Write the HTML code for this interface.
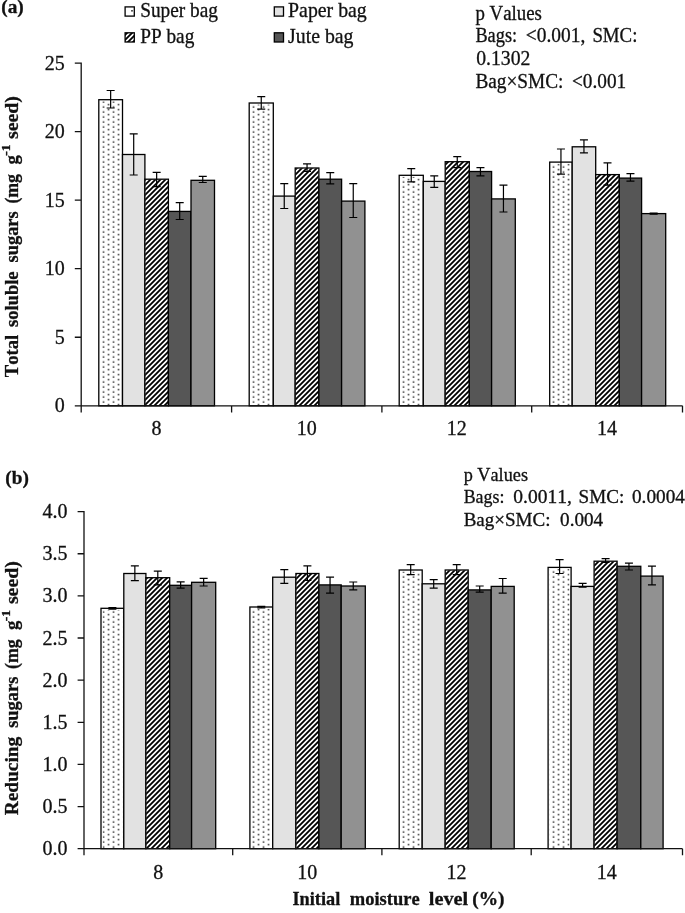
<!DOCTYPE html>
<html><head><meta charset="utf-8"><title>Figure</title><style>html,body{margin:0;padding:0;background:#fff}svg{display:block;filter:blur(0.35px)}text{font-family:"Liberation Serif",serif;fill:#111;font-kerning:none;stroke:#111;stroke-width:0.3px}.t{font-size:20px}.l{font-size:19.6px}.b{font-weight:bold;font-size:19.3px;fill:#111}</style></head><body>
<svg width="685" height="913" viewBox="0 0 685 913">
<defs>
<pattern id="dots" width="10" height="5" patternUnits="userSpaceOnUse" x="0.7" y="0.8"><rect width="10" height="5" fill="#fff"/><rect x="2" y="0.5" width="1.5" height="1.5" fill="#2a2a2a"/><rect x="7" y="3" width="1.5" height="1.5" fill="#2a2a2a"/></pattern>
<pattern id="hatch" width="5" height="5" patternUnits="userSpaceOnUse"><rect width="5" height="5" fill="#fff"/><path d="M-1,1L1,-1M-1,6L6,-1M4,6L6,4" stroke="#000" stroke-width="1.8"/></pattern>
</defs>
<rect width="685" height="913" fill="#fff"/>
<rect x="98.80" y="99.70" width="23.70" height="306.10" fill="#fff"/>
<rect x="100.40" y="101.30" width="20.50" height="304.50" fill="url(#dots)"/>
<rect x="98.80" y="99.70" width="23.70" height="306.10" fill="none" stroke="#000" stroke-width="1.3"/>
<rect x="122.50" y="154.50" width="22.40" height="251.30" fill="#e2e2e2" stroke="#000" stroke-width="1.3"/>
<rect x="144.90" y="179.20" width="23.50" height="226.60" fill="#fff"/>
<rect x="145.20" y="179.50" width="22.90" height="226.30" fill="url(#hatch)"/>
<rect x="144.90" y="179.20" width="23.50" height="226.60" fill="none" stroke="#000" stroke-width="1.3"/>
<rect x="168.40" y="211.40" width="22.60" height="194.40" fill="#565656" stroke="#000" stroke-width="1.3"/>
<rect x="191.00" y="180.30" width="23.50" height="225.50" fill="#919191" stroke="#000" stroke-width="1.3"/>
<path d="M110.65,90.50V108.00M106.65,90.50H114.65M106.65,108.00H114.65" stroke="#000" stroke-width="1.2" fill="none"/>
<path d="M133.70,133.90V175.00M129.70,133.90H137.70M129.70,175.00H137.70" stroke="#000" stroke-width="1.2" fill="none"/>
<path d="M156.65,172.40V186.60M152.65,172.40H160.65M152.65,186.60H160.65" stroke="#000" stroke-width="1.2" fill="none"/>
<path d="M179.70,202.60V219.50M175.70,202.60H183.70M175.70,219.50H183.70" stroke="#000" stroke-width="1.2" fill="none"/>
<path d="M202.75,176.40V182.50M198.75,176.40H206.75M198.75,182.50H206.75" stroke="#000" stroke-width="1.2" fill="none"/>
<rect x="249.20" y="103.00" width="24.10" height="302.80" fill="#fff"/>
<rect x="250.80" y="104.60" width="20.90" height="301.20" fill="url(#dots)"/>
<rect x="249.20" y="103.00" width="24.10" height="302.80" fill="none" stroke="#000" stroke-width="1.3"/>
<rect x="273.30" y="196.10" width="21.90" height="209.70" fill="#e2e2e2" stroke="#000" stroke-width="1.3"/>
<rect x="295.20" y="168.00" width="23.70" height="237.80" fill="#fff"/>
<rect x="295.50" y="168.30" width="23.10" height="237.50" fill="url(#hatch)"/>
<rect x="295.20" y="168.00" width="23.70" height="237.80" fill="none" stroke="#000" stroke-width="1.3"/>
<rect x="318.90" y="179.20" width="22.70" height="226.60" fill="#565656" stroke="#000" stroke-width="1.3"/>
<rect x="341.60" y="201.10" width="23.30" height="204.70" fill="#919191" stroke="#000" stroke-width="1.3"/>
<path d="M261.25,96.60V109.10M257.25,96.60H265.25M257.25,109.10H265.25" stroke="#000" stroke-width="1.2" fill="none"/>
<path d="M284.25,183.60V208.50M280.25,183.60H288.25M280.25,208.50H288.25" stroke="#000" stroke-width="1.2" fill="none"/>
<path d="M307.05,163.90V171.50M303.05,163.90H311.05M303.05,171.50H311.05" stroke="#000" stroke-width="1.2" fill="none"/>
<path d="M330.25,172.60V183.80M326.25,172.60H334.25M326.25,183.80H334.25" stroke="#000" stroke-width="1.2" fill="none"/>
<path d="M353.25,183.60V217.50M349.25,183.60H357.25M349.25,217.50H357.25" stroke="#000" stroke-width="1.2" fill="none"/>
<rect x="399.20" y="175.30" width="24.10" height="230.50" fill="#fff"/>
<rect x="400.80" y="176.90" width="20.90" height="228.90" fill="url(#dots)"/>
<rect x="399.20" y="175.30" width="24.10" height="230.50" fill="none" stroke="#000" stroke-width="1.3"/>
<rect x="423.30" y="181.40" width="21.90" height="224.40" fill="#e2e2e2" stroke="#000" stroke-width="1.3"/>
<rect x="445.20" y="161.70" width="24.10" height="244.10" fill="#fff"/>
<rect x="445.50" y="162.00" width="23.50" height="243.80" fill="url(#hatch)"/>
<rect x="445.20" y="161.70" width="24.10" height="244.10" fill="none" stroke="#000" stroke-width="1.3"/>
<rect x="469.30" y="171.50" width="22.30" height="234.30" fill="#565656" stroke="#000" stroke-width="1.3"/>
<rect x="491.60" y="198.90" width="23.70" height="206.90" fill="#919191" stroke="#000" stroke-width="1.3"/>
<path d="M411.25,168.70V181.80M407.25,168.70H415.25M407.25,181.80H415.25" stroke="#000" stroke-width="1.2" fill="none"/>
<path d="M434.25,175.90V187.30M430.25,175.90H438.25M430.25,187.30H438.25" stroke="#000" stroke-width="1.2" fill="none"/>
<path d="M457.25,156.60V167.60M453.25,156.60H461.25M453.25,167.60H461.25" stroke="#000" stroke-width="1.2" fill="none"/>
<path d="M480.45,167.60V175.90M476.45,167.60H484.45M476.45,175.90H484.45" stroke="#000" stroke-width="1.2" fill="none"/>
<path d="M503.45,185.10V212.00M499.45,185.10H507.45M499.45,212.00H507.45" stroke="#000" stroke-width="1.2" fill="none"/>
<rect x="549.70" y="162.10" width="22.50" height="243.70" fill="#fff"/>
<rect x="551.30" y="163.70" width="19.30" height="242.10" fill="url(#dots)"/>
<rect x="549.70" y="162.10" width="22.50" height="243.70" fill="none" stroke="#000" stroke-width="1.3"/>
<rect x="572.20" y="146.80" width="23.50" height="259.00" fill="#e2e2e2" stroke="#000" stroke-width="1.3"/>
<rect x="595.70" y="174.60" width="23.60" height="231.20" fill="#fff"/>
<rect x="596.00" y="174.90" width="23.00" height="230.90" fill="url(#hatch)"/>
<rect x="595.70" y="174.60" width="23.60" height="231.20" fill="none" stroke="#000" stroke-width="1.3"/>
<rect x="619.30" y="178.10" width="22.30" height="227.70" fill="#565656" stroke="#000" stroke-width="1.3"/>
<rect x="641.60" y="213.60" width="24.10" height="192.20" fill="#919191" stroke="#000" stroke-width="1.3"/>
<path d="M560.95,149.00V174.20M556.95,149.00H564.95M556.95,174.20H564.95" stroke="#000" stroke-width="1.2" fill="none"/>
<path d="M583.95,139.80V152.90M579.95,139.80H587.95M579.95,152.90H587.95" stroke="#000" stroke-width="1.2" fill="none"/>
<path d="M607.50,162.80V185.20M603.50,162.80H611.50M603.50,185.20H611.50" stroke="#000" stroke-width="1.2" fill="none"/>
<path d="M630.45,173.70V181.20M626.45,173.70H634.45M626.45,181.20H634.45" stroke="#000" stroke-width="1.2" fill="none"/>
<path d="M653.65,213.10V214.10M649.65,213.10H657.65M649.65,214.10H657.65" stroke="#000" stroke-width="1.2" fill="none"/>
<path d="M81.20,62.50V405.80H682.50M74.80,405.80H81.20M74.80,337.26H81.20M74.80,268.72H81.20M74.80,200.18H81.20M74.80,131.64H81.20M74.80,63.10H81.20M81.20,405.80V412.40M231.60,405.80V412.40M381.90,405.80V412.40M531.70,405.80V412.40M682.50,405.80V412.40" stroke="#111" stroke-width="1.3" fill="none"/>
<text x="64.70" y="412.40" text-anchor="end" class="t">0</text>
<text x="64.70" y="343.86" text-anchor="end" class="t">5</text>
<text x="64.70" y="275.32" text-anchor="end" class="t">10</text>
<text x="64.70" y="206.78" text-anchor="end" class="t">15</text>
<text x="64.70" y="138.24" text-anchor="end" class="t">20</text>
<text x="64.70" y="69.70" text-anchor="end" class="t">25</text>
<text x="156.40" y="435.00" text-anchor="middle" class="t">8</text>
<text x="306.75" y="435.00" text-anchor="middle" class="t">10</text>
<text x="456.80" y="435.00" text-anchor="middle" class="t">12</text>
<text x="607.10" y="435.00" text-anchor="middle" class="t">14</text>
<rect x="101.00" y="608.30" width="22.80" height="240.40" fill="#fff"/>
<rect x="102.60" y="609.90" width="19.60" height="238.80" fill="url(#dots)"/>
<rect x="101.00" y="608.30" width="22.80" height="240.40" fill="none" stroke="#000" stroke-width="1.3"/>
<rect x="123.80" y="573.50" width="22.10" height="275.20" fill="#e2e2e2" stroke="#000" stroke-width="1.3"/>
<rect x="145.90" y="577.70" width="23.80" height="271.00" fill="#fff"/>
<rect x="146.20" y="578.00" width="23.20" height="270.70" fill="url(#hatch)"/>
<rect x="145.90" y="577.70" width="23.80" height="271.00" fill="none" stroke="#000" stroke-width="1.3"/>
<rect x="169.70" y="585.30" width="21.90" height="263.40" fill="#565656" stroke="#000" stroke-width="1.3"/>
<rect x="191.60" y="582.30" width="24.10" height="266.40" fill="#919191" stroke="#000" stroke-width="1.3"/>
<path d="M112.40,607.60V609.20M108.40,607.60H116.40M108.40,609.20H116.40" stroke="#000" stroke-width="1.2" fill="none"/>
<path d="M134.85,565.80V580.70M130.85,565.80H138.85M130.85,580.70H138.85" stroke="#000" stroke-width="1.2" fill="none"/>
<path d="M157.80,571.10V584.90M153.80,571.10H161.80M153.80,584.90H161.80" stroke="#000" stroke-width="1.2" fill="none"/>
<path d="M180.65,581.80V588.20M176.65,581.80H184.65M176.65,588.20H184.65" stroke="#000" stroke-width="1.2" fill="none"/>
<path d="M203.65,578.30V586.00M199.65,578.30H207.65M199.65,586.00H207.65" stroke="#000" stroke-width="1.2" fill="none"/>
<rect x="249.90" y="607.00" width="22.80" height="241.70" fill="#fff"/>
<rect x="251.50" y="608.60" width="19.60" height="240.10" fill="url(#dots)"/>
<rect x="249.90" y="607.00" width="22.80" height="241.70" fill="none" stroke="#000" stroke-width="1.3"/>
<rect x="272.70" y="577.20" width="23.20" height="271.50" fill="#e2e2e2" stroke="#000" stroke-width="1.3"/>
<rect x="295.90" y="573.50" width="23.00" height="275.20" fill="#fff"/>
<rect x="296.20" y="573.80" width="22.40" height="274.90" fill="url(#hatch)"/>
<rect x="295.90" y="573.50" width="23.00" height="275.20" fill="none" stroke="#000" stroke-width="1.3"/>
<rect x="318.90" y="584.90" width="22.30" height="263.80" fill="#565656" stroke="#000" stroke-width="1.3"/>
<rect x="341.20" y="586.00" width="24.10" height="262.70" fill="#919191" stroke="#000" stroke-width="1.3"/>
<path d="M261.30,606.30V607.90M257.30,606.30H265.30M257.30,607.90H265.30" stroke="#000" stroke-width="1.2" fill="none"/>
<path d="M284.30,569.60V583.40M280.30,569.60H288.30M280.30,583.40H288.30" stroke="#000" stroke-width="1.2" fill="none"/>
<path d="M307.40,565.80V580.50M303.40,565.80H311.40M303.40,580.50H311.40" stroke="#000" stroke-width="1.2" fill="none"/>
<path d="M330.05,577.20V593.20M326.05,577.20H334.05M326.05,593.20H334.05" stroke="#000" stroke-width="1.2" fill="none"/>
<path d="M353.25,582.00V589.90M349.25,582.00H357.25M349.25,589.90H357.25" stroke="#000" stroke-width="1.2" fill="none"/>
<rect x="399.20" y="570.00" width="23.00" height="278.70" fill="#fff"/>
<rect x="400.80" y="571.60" width="19.80" height="277.10" fill="url(#dots)"/>
<rect x="399.20" y="570.00" width="23.00" height="278.70" fill="none" stroke="#000" stroke-width="1.3"/>
<rect x="422.20" y="583.80" width="23.00" height="264.90" fill="#e2e2e2" stroke="#000" stroke-width="1.3"/>
<rect x="445.20" y="570.00" width="23.00" height="278.70" fill="#fff"/>
<rect x="445.50" y="570.30" width="22.40" height="278.40" fill="url(#hatch)"/>
<rect x="445.20" y="570.00" width="23.00" height="278.70" fill="none" stroke="#000" stroke-width="1.3"/>
<rect x="468.20" y="589.90" width="23.00" height="258.80" fill="#565656" stroke="#000" stroke-width="1.3"/>
<rect x="491.20" y="586.40" width="23.00" height="262.30" fill="#919191" stroke="#000" stroke-width="1.3"/>
<path d="M410.70,564.70V574.60M406.70,564.70H414.70M406.70,574.60H414.70" stroke="#000" stroke-width="1.2" fill="none"/>
<path d="M433.70,579.60V588.20M429.70,579.60H437.70M429.70,588.20H437.70" stroke="#000" stroke-width="1.2" fill="none"/>
<path d="M456.70,564.70V574.60M452.70,564.70H460.70M452.70,574.60H460.70" stroke="#000" stroke-width="1.2" fill="none"/>
<path d="M479.70,586.00V592.10M475.70,586.00H483.70M475.70,592.10H483.70" stroke="#000" stroke-width="1.2" fill="none"/>
<path d="M502.70,578.50V593.20M498.70,578.50H506.70M498.70,593.20H506.70" stroke="#000" stroke-width="1.2" fill="none"/>
<rect x="548.10" y="567.40" width="23.00" height="281.30" fill="#fff"/>
<rect x="549.70" y="569.00" width="19.80" height="279.70" fill="url(#dots)"/>
<rect x="548.10" y="567.40" width="23.00" height="281.30" fill="none" stroke="#000" stroke-width="1.3"/>
<rect x="571.10" y="586.40" width="23.00" height="262.30" fill="#e2e2e2" stroke="#000" stroke-width="1.3"/>
<rect x="594.10" y="561.20" width="23.00" height="287.50" fill="#fff"/>
<rect x="594.40" y="561.50" width="22.40" height="287.20" fill="url(#hatch)"/>
<rect x="594.10" y="561.20" width="23.00" height="287.50" fill="none" stroke="#000" stroke-width="1.3"/>
<rect x="617.10" y="566.30" width="23.70" height="282.40" fill="#565656" stroke="#000" stroke-width="1.3"/>
<rect x="640.80" y="576.10" width="22.30" height="272.60" fill="#919191" stroke="#000" stroke-width="1.3"/>
<path d="M559.60,559.70V573.50M555.60,559.70H563.60M555.60,573.50H563.60" stroke="#000" stroke-width="1.2" fill="none"/>
<path d="M582.60,583.40V587.10M578.60,583.40H586.60M578.60,587.10H586.60" stroke="#000" stroke-width="1.2" fill="none"/>
<path d="M605.60,558.60V562.40M601.60,558.60H609.60M601.60,562.40H609.60" stroke="#000" stroke-width="1.2" fill="none"/>
<path d="M628.95,563.20V570.00M624.95,563.20H632.95M624.95,570.00H632.95" stroke="#000" stroke-width="1.2" fill="none"/>
<path d="M651.95,566.10V584.90M647.95,566.10H655.95M647.95,584.90H655.95" stroke="#000" stroke-width="1.2" fill="none"/>
<path d="M84.00,511.00V848.70H682.50M77.60,848.70H84.00M77.60,806.56H84.00M77.60,764.43H84.00M77.60,722.29H84.00M77.60,680.15H84.00M77.60,638.01H84.00M77.60,595.88H84.00M77.60,553.74H84.00M77.60,511.60H84.00M84.00,848.70V855.30M232.70,848.70V855.30M381.90,848.70V855.30M531.20,848.70V855.30M682.50,848.70V855.30" stroke="#111" stroke-width="1.3" fill="none"/>
<text x="67.50" y="855.30" text-anchor="end" class="t">0.0</text>
<text x="67.50" y="813.16" text-anchor="end" class="t">0.5</text>
<text x="67.50" y="771.03" text-anchor="end" class="t">1.0</text>
<text x="67.50" y="728.89" text-anchor="end" class="t">1.5</text>
<text x="67.50" y="686.75" text-anchor="end" class="t">2.0</text>
<text x="67.50" y="644.61" text-anchor="end" class="t">2.5</text>
<text x="67.50" y="602.48" text-anchor="end" class="t">3.0</text>
<text x="67.50" y="560.34" text-anchor="end" class="t">3.5</text>
<text x="67.50" y="518.20" text-anchor="end" class="t">4.0</text>
<text x="158.35" y="878.50" text-anchor="middle" class="t">8</text>
<text x="307.30" y="878.50" text-anchor="middle" class="t">10</text>
<text x="456.55" y="878.50" text-anchor="middle" class="t">12</text>
<text x="606.85" y="878.50" text-anchor="middle" class="t">14</text>
<rect x="125.1" y="6.9" width="9.2" height="9.2" fill="#fff" stroke="#000" stroke-width="1.3"/>
<rect x="131.2" y="10.0" width="1.6" height="1.6" fill="#333"/>
<rect x="125.1" y="32.8" width="9.2" height="9.2" fill="url(#hatch)" stroke="#000" stroke-width="1.3"/>
<rect x="274.3" y="6.9" width="9.2" height="9.2" fill="#e2e2e2" stroke="#000" stroke-width="1.3"/>
<rect x="274.3" y="32.8" width="9.2" height="9.2" fill="#565656" stroke="#000" stroke-width="1.3"/>
<text x="140.20" y="16.70" class="l" style="font-size:20.2px" textLength="77.80" lengthAdjust="spacingAndGlyphs" xml:space="preserve">Super bag</text>
<text x="140.20" y="42.50" class="l" style="font-size:20.2px" textLength="54.10" lengthAdjust="spacingAndGlyphs" xml:space="preserve">PP bag</text>
<text x="288.10" y="16.70" class="l" style="font-size:20.2px" textLength="78.70" lengthAdjust="spacingAndGlyphs" xml:space="preserve">Paper bag</text>
<text x="288.10" y="42.50" class="l" style="font-size:20.2px" textLength="65.40" lengthAdjust="spacingAndGlyphs" xml:space="preserve">Jute bag</text>
<text x="475.40" y="19.90" class="l" style="font-size:20px" textLength="66.50" lengthAdjust="spacingAndGlyphs" xml:space="preserve">p Values</text>
<text x="475.40" y="42.00" class="l" style="font-size:20px" textLength="41.70" lengthAdjust="spacingAndGlyphs" xml:space="preserve">Bags:</text>
<text x="525.80" y="42.00" class="l" style="font-size:20px" textLength="59.50" lengthAdjust="spacingAndGlyphs" xml:space="preserve">&lt;0.001,</text>
<text x="592.40" y="42.00" class="l" style="font-size:20px" textLength="45.00" lengthAdjust="spacingAndGlyphs" xml:space="preserve">SMC:</text>
<text x="476.20" y="65.30" class="l" style="font-size:20px" textLength="54.20" lengthAdjust="spacingAndGlyphs" xml:space="preserve">0.1302</text>
<text x="475.40" y="88.00" class="l" style="font-size:20px" textLength="88.10" lengthAdjust="spacingAndGlyphs" xml:space="preserve">Bag×SMC:</text>
<text x="572.00" y="88.00" class="l" style="font-size:20px" textLength="54.20" lengthAdjust="spacingAndGlyphs" xml:space="preserve">&lt;0.001</text>
<text x="463.70" y="480.60" class="l" style="font-size:18.8px" textLength="64.30" lengthAdjust="spacingAndGlyphs" xml:space="preserve">p Values</text>
<text x="463.70" y="503.20" class="l" style="font-size:18.8px" textLength="40.70" lengthAdjust="spacingAndGlyphs" xml:space="preserve">Bags:</text>
<text x="513.30" y="503.20" class="l" style="font-size:18.8px" textLength="58.50" lengthAdjust="spacingAndGlyphs" xml:space="preserve">0.0011,</text>
<text x="578.60" y="503.20" class="l" style="font-size:18.8px" textLength="45.60" lengthAdjust="spacingAndGlyphs" xml:space="preserve">SMC:</text>
<text x="632.00" y="503.20" class="l" style="font-size:18.8px" textLength="52.90" lengthAdjust="spacingAndGlyphs" xml:space="preserve">0.0004</text>
<text x="463.70" y="525.90" class="l" style="font-size:18.8px" textLength="86.80" lengthAdjust="spacingAndGlyphs" xml:space="preserve">Bag×SMC:</text>
<text x="560.10" y="525.90" class="l" style="font-size:18.8px" textLength="43.10" lengthAdjust="spacingAndGlyphs" xml:space="preserve">0.004</text>
<text x="1.3" y="13.3" class="b" style="font-size:19.3px">(a)</text>
<text x="5.3" y="483.9" class="b" style="font-size:19.3px">(b)</text>
<text x="292.50" y="905.00" class="b" style="font-size:19.0px" textLength="47.70" lengthAdjust="spacingAndGlyphs" xml:space="preserve">Initial</text>
<text x="349.80" y="905.00" class="b" style="font-size:19.0px" textLength="69.90" lengthAdjust="spacingAndGlyphs" xml:space="preserve">moisture</text>
<text x="428.80" y="905.00" class="b" style="font-size:19.0px" textLength="39.40" lengthAdjust="spacingAndGlyphs" xml:space="preserve">level</text>
<text x="472.20" y="905.00" class="b" style="font-size:19.0px" textLength="32.30" lengthAdjust="spacingAndGlyphs" xml:space="preserve">(%)</text>
<text transform="translate(17.8,377.30) rotate(-90)" class="b" textLength="42.50" lengthAdjust="spacingAndGlyphs">Total</text>
<text transform="translate(17.8,327.00) rotate(-90)" class="b" textLength="55.60" lengthAdjust="spacingAndGlyphs">soluble</text>
<text transform="translate(17.8,262.40) rotate(-90)" class="b" textLength="51.00" lengthAdjust="spacingAndGlyphs">sugars</text>
<text transform="translate(17.8,203.60) rotate(-90)" class="b" textLength="29.60" lengthAdjust="spacingAndGlyphs">(mg</text>
<text transform="translate(17.8,164.60) rotate(-90)" class="b" style="font-size:18.4px">g<tspan dy="-7.4" dx="-0.3" font-size="13.5">-1</tspan></text>
<text transform="translate(17.8,139.00) rotate(-90)" class="b" textLength="42.90" lengthAdjust="spacingAndGlyphs">seed)</text>
<text transform="translate(17.8,815.30) rotate(-90)" class="b" textLength="78.60" lengthAdjust="spacingAndGlyphs">Reducing</text>
<text transform="translate(17.8,727.80) rotate(-90)" class="b" textLength="51.10" lengthAdjust="spacingAndGlyphs">sugars</text>
<text transform="translate(17.8,669.00) rotate(-90)" class="b" textLength="29.50" lengthAdjust="spacingAndGlyphs">(mg</text>
<text transform="translate(17.8,630.10) rotate(-90)" class="b" style="font-size:18.4px">g<tspan dy="-7.4" dx="-0.3" font-size="13.5">-1</tspan></text>
<text transform="translate(17.8,604.10) rotate(-90)" class="b" textLength="42.90" lengthAdjust="spacingAndGlyphs">seed)</text>
</svg></body></html>
